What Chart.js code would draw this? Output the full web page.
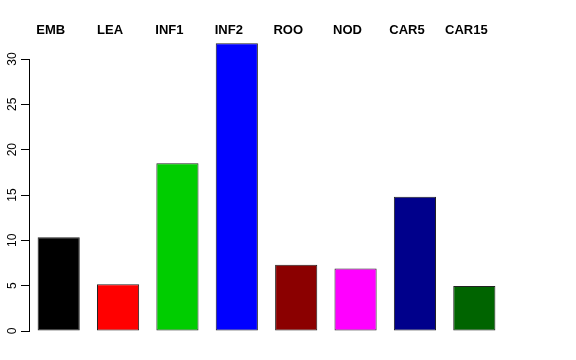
<!DOCTYPE html>
<html>
<head>
<meta charset="utf-8">
<script src="https://cdn.jsdelivr.net/npm/chart.js@4"></script>
<style>
  html, body { margin: 0; padding: 0; background: #fff; }
  #wrap { width: 576px; height: 360px; }
</style>
</head>
<body>
<div id="wrap"><canvas id="barChart" width="576" height="360"></canvas></div>
<script>
var categories = ['EMB', 'LEA', 'INF1', 'INF2', 'ROO', 'NOD', 'CAR5', 'CAR15'];
var values = [10.35, 5.15, 18.5, 31.75, 7.3, 6.9, 14.8, 4.95];
var barColors = ['#000000', '#ff0000', '#00cd00', '#0000ff', '#8b0000', '#ff00ff', '#00008b', '#006400'];
var yTicks = [0, 5, 10, 15, 20, 25, 30];

// rotated y tick labels, like R's default las=0
var yLabels = {
	id: 'yLabels',
	afterDraw: function (chart) {
		var ctx = chart.ctx;
		var y = chart.scales.y;
		ctx.save();
		ctx.font = '12px "Liberation Sans", Arial, sans-serif';
		ctx.fillStyle = '#000';
		ctx.textAlign = 'center';
		ctx.textBaseline = 'middle';
		yTicks.forEach(function (v) {
			ctx.save();
			ctx.translate(13, y.getPixelForValue(v));
			ctx.rotate(-Math.PI / 2);
			ctx.fillText(String(v), 0, 0);
			ctx.restore();
		});
		ctx.restore();
	}
};

var ctx = document.getElementById('barChart').getContext('2d');

var barChart = new Chart(ctx, {
	type: 'bar',
	data: {
		labels: categories,
		datasets: [{
			data: values,
			backgroundColor: barColors,
			borderColor: '#222',
			borderWidth: 1,
			borderSkipped: false,
			barPercentage: 0.71,
			categoryPercentage: 1,
			clip: false
		}]
	},
	options: {
		responsive: false,
		animation: false,
		layout: { padding: { left: 0, right: 72, top: 0, bottom: 29 } },
		plugins: {
			legend: { display: false },
			tooltip: { enabled: false }
		},
		scales: {
			x: {
				position: 'top',
				afterFit: function (s) { s.height = 59; },
				grid: { display: false, drawTicks: false },
				border: { display: false },
				ticks: {
					color: '#000',
					font: { size: 13, weight: 'bold', family: '"Liberation Sans", Arial, sans-serif' },
					labelOffset: -8,
					padding: 21,
					maxRotation: 0
				}
			},
			y: {
				min: 0,
				max: 30,
				afterFit: function (s) { s.width = 29; },
				afterBuildTicks: function (s) {
					s.ticks = yTicks.map(function (v) { return { value: v }; });
				},
				grid: { drawOnChartArea: false, tickLength: 8, tickColor: '#000' },
				border: { display: true, color: '#000' },
				ticks: { display: false }
			}
		}
	},
	plugins: [yLabels]
});
</script>
</body>
</html>
